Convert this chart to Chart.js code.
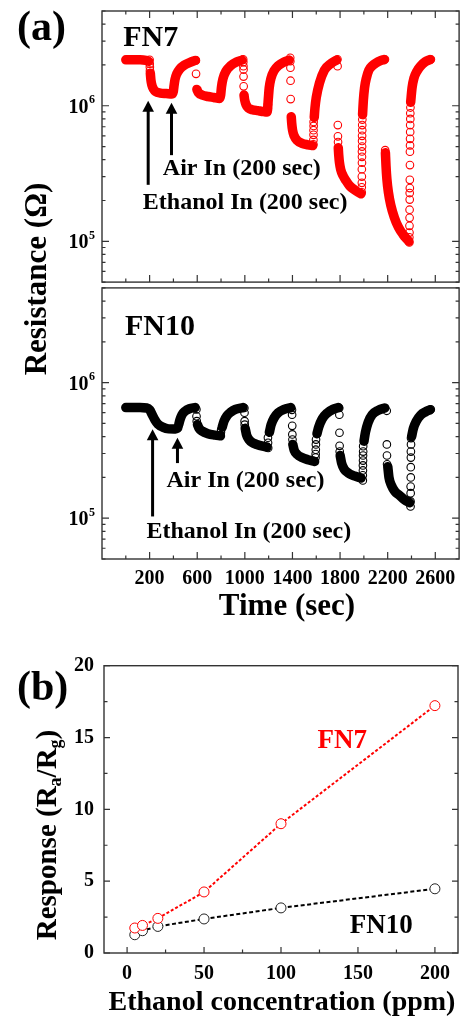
<!DOCTYPE html>
<html><head><meta charset="utf-8">
<script src="https://cdn.jsdelivr.net/npm/chart.js@4.4.1/dist/chart.umd.min.js"></script>
<style>
html,body{margin:0;padding:0;background:#fff;}
#wrap{position:relative;width:464px;height:1019px;overflow:hidden;background:#fff;}
canvas{position:absolute;left:0;}
.t{position:absolute;font-family:"Liberation Serif","Times New Roman",serif;font-weight:bold;color:#000;white-space:nowrap;width:max-content;}
.sub{position:relative;top:0.3em;font-size:0.62em;}
</style></head>
<body><div id="wrap">
<canvas id="cA1" width="464" height="287" style="top:0"></canvas>
<canvas id="cA2" width="464" height="357" style="top:283px"></canvas>
<canvas id="cB" width="464" height="379" style="top:640px"></canvas>
<div class="t" style="left:17px;top:5px;font-size:42px;line-height:42px">(a)</div>
<div class="t" style="left:17px;top:665px;font-size:42px;line-height:42px">(b)</div>
<div class="t" style="left:287px;top:588.5px;font-size:31px;line-height:31px;transform:translateX(-50%)">Time (sec)</div>
<div class="t" style="left:282px;top:987px;font-size:28px;line-height:28px;transform:translateX(-50%)">Ethanol concentration (ppm)</div>
<div class="t" style="left:34.5px;top:279px;font-size:31px;line-height:31px;transform:translate(-50%,-50%) rotate(-90deg)">Resistance (Ω)</div>
<div class="t" style="left:48px;top:835px;font-size:29px;line-height:29px;transform:translate(-50%,-50%) rotate(-90deg)">Response (R<span class="sub">a</span>/R<span class="sub">g</span>)</div>
</div>
<script>
// ---------------- data ----------------
const timeTickLabels = [200, 600, 1000, 1400, 1800, 2200, 2600];
const resistanceTickLabels = [1e5, 1e6];
const concTickLabels = [0, 50, 100, 150, 200];
const responseTickLabels = [0, 5, 10, 15, 20];

// FN7: dense (continuous-looking) parts of the transient, [time s, resistance ohm]
const fn7Bands = [
  [[0,2.18e6],[60,2.18e6],[120,2.18e6],[170,2.16e6],[192,2.13e6]],
  [[206,1.74e6],[211,1.55e6],[219,1.42e6],[232,1.33e6],[252,1.27e6],[290,1.24e6],[340,1.23e6],[388,1.22e6],[399,1.27e6],[405,1.4e6],[413,1.56e6],[428,1.72e6],[452,1.86e6],[490,1.99e6],[540,2.09e6],[584,2.16e6]],
  [[597,1.32e6],[610,1.25e6],[640,1.2e6],[690,1.17e6],[740,1.15e6],[788,1.13e6],[797,1.2e6],[804,1.38e6],[816,1.58e6],[842,1.8e6],[880,1.97e6],[930,2.1e6],[975,2.17e6]],
  [[993,1.2e6],[999,1.1e6],[1010,1.02e6],[1030,9.6e5],[1062,9.35e5],[1110,9.2e5],[1160,9.05e5],[1188,9.0e5],[1197,1.12e6],[1205,1.36e6],[1220,1.6e6],[1245,1.81e6],[1280,1.97e6],[1330,2.1e6],[1372,2.17e6]],
  [[1390,8.3e5],[1394,7.4e5],[1401,6.6e5],[1414,6.0e5],[1440,5.55e5],[1480,5.28e5],[1530,5.15e5],[1570,5.08e5]],
  [[1583,8.2e5],[1589,9.6e5],[1600,1.15e6],[1627,1.47e6],[1668,1.83e6],[1724,2.05e6],[1770,2.17e6]],
  [[1785,4.9e5],[1789,4.3e5],[1795,3.8e5],[1805,3.4e5],[1825,3.05e5],[1850,2.8e5],[1880,2.57e5],[1920,2.4e5],[1952,2.3e5],[1976,2.24e5]],
  [[1989,8.6e5],[1996,1.1e6],[2006,1.36e6],[2021,1.6e6],[2042,1.83e6],[2070,1.97e6],[2102,2.07e6],[2140,2.15e6],[2170,2.19e6]],
  [[2181,4.5e5],[2186,3.6e5],[2193,2.9e5],[2206,2.3e5],[2226,1.85e5],[2256,1.5e5],[2290,1.27e5],[2330,1.12e5],[2360,1.04e5],[2378,1.0e5]],
  [[2393,1.06e6],[2405,1.36e6],[2421,1.6e6],[2446,1.8e6],[2476,1.96e6],[2516,2.11e6],[2556,2.19e6]]
];
// FN7: isolated markers during the fast switching steps
const fn7Points = [
  [200,2.18e6],[201,2.04e6],[202,1.93e6],[203,1.82e6],
  [589,2.16e6],[590,1.72e6],
  [986,2.2e6],[987,2.1e6],[988,1.96e6],[989,1.85e6],[989,1.64e6],[990,1.39e6],
  [1193,9.6e5],[1194,1.02e6],
  [1381,2.26e6],[1382,2.13e6],[1383,1.91e6],[1384,1.53e6],[1385,1.12e6],
  [1576,5.2e5],[1576,5.6e5],[1577,6.1e5],[1577,6.6e5],[1578,7.1e5],[1578,7.6e5],
  [1778,2.2e6],[1779,1.96e6],[1781,7.2e5],[1782,5.95e5],[1783,5.4e5],
  [1982,2.3e5],[1982,2.5e5],[1983,2.7e5],[1983,3.0e5],[1983,3.4e5],[1984,3.8e5],[1984,4.2e5],[1984,4.6e5],[1985,5.0e5],[1985,5.5e5],[1985,6.0e5],[1986,6.6e5],[1986,7.2e5],[1987,7.9e5],
  [2177,2.2e6],[2179,4.7e5],[2180,4.3e5],
  [2382,9.8e4],[2382,1.07e5],[2383,1.16e5],[2383,1.3e5],[2384,1.49e5],[2384,1.71e5],[2385,2.03e5],[2385,2.27e5],[2386,2.47e5],[2386,2.84e5],[2387,3.65e5],[2387,4.58e5],[2388,5.1e5],[2388,5.7e5],[2389,6.4e5],[2389,7.2e5],[2390,8.0e5],[2390,8.8e5],[2391,9.7e5],
  [2563,2.2e6]
];

// FN10
const fn10Bands = [
  [[0,6.55e5],[60,6.55e5],[120,6.55e5],[175,6.5e5],[200,6.3e5],[222,5.8e5],[245,5.3e5],[270,4.95e5],[310,4.7e5],[360,4.56e5],[405,4.55e5],[432,4.6e5]],
  [[446,4.95e5],[456,5.35e5],[472,5.8e5],[497,6.15e5],[535,6.42e5],[582,6.55e5]],
  [[602,4.9e5],[616,4.6e5],[640,4.4e5],[690,4.2e5],[750,4.1e5],[795,4.05e5]],
  [[810,4.7e5],[825,5.2e5],[850,5.7e5],[880,6.05e5],[920,6.35e5],[985,6.55e5]],
  [[1003,4.6e5],[1015,4.1e5],[1035,3.8e5],[1065,3.6e5],[1100,3.5e5],[1150,3.4e5],[1186,3.35e5]],
  [[1206,4.3e5],[1221,4.9e5],[1246,5.5e5],[1280,6.0e5],[1330,6.35e5],[1386,6.55e5]],
  [[1403,3.5e5],[1416,3.15e5],[1440,2.95e5],[1480,2.8e5],[1530,2.7e5],[1586,2.62e5]],
  [[1606,4.2e5],[1621,4.7e5],[1650,5.4e5],[1690,5.95e5],[1740,6.35e5],[1786,6.55e5]],
  [[1801,2.9e5],[1813,2.55e5],[1835,2.3e5],[1870,2.15e5],[1920,2.05e5],[1976,1.98e5]],
  [[2001,3.7e5],[2013,4.3e5],[2036,5.1e5],[2070,5.8e5],[2120,6.25e5],[2176,6.5e5]],
  [[2201,2.4e5],[2211,2.0e5],[2231,1.75e5],[2260,1.58e5],[2300,1.47e5],[2340,1.37e5],[2385,1.3e5]],
  [[2401,4.0e5],[2416,4.6e5],[2441,5.2e5],[2476,5.75e5],[2520,6.1e5],[2555,6.3e5]]
];
const fn10Points = [
  [440,4.65e5],[442,4.8e5],
  [593,6.35e5],[594,5.65e5],[596,5.2e5],
  [797,4.1e5],[799,4.3e5],[801,4.5e5],
  [996,6.5e5],[997,6.0e5],[998,5.2e5],[999,4.9e5],
  [1194,3.93e5],[1195,3.6e5],[1196,3.3e5],
  [1396,6.3e5],[1397,5.8e5],[1398,4.8e5],[1399,4.15e5],[1400,3.8e5],
  [1594,2.8e5],[1595,2.97e5],[1596,3.2e5],[1597,3.5e5],[1598,3.8e5],
  [1793,6.5e5],[1794,5.8e5],[1795,4.27e5],[1796,3.42e5],[1797,3.1e5],
  [1991,1.9e5],[1991,2.07e5],[1992,2.25e5],[1992,2.45e5],[1993,2.66e5],[1993,2.9e5],[1994,3.1e5],[1994,3.4e5],
  [2192,6.2e5],[2193,3.5e5],[2194,2.9e5],[2195,2.5e5],
  [2392,1.22e5],[2392,1.33e5],[2393,1.53e5],[2393,1.71e5],[2394,2.0e5],[2394,2.38e5],[2395,2.8e5],[2395,3.1e5],[2396,3.5e5],[2396,3.9e5],
  [2562,6.35e5]
];

// panel (b)
const concentration = [5, 10, 20, 50, 100, 200];
const fn7Response = [1.74, 1.92, 2.41, 4.25, 9.0, 17.22];
const fn10Response = [1.27, 1.55, 1.85, 2.37, 3.14, 4.47];

// ---------------- helpers ----------------
const FONT = '"Liberation Serif", "Times New Roman", serif';
const RED = '#ff0000', BLK = '#000000', FRAME = '#333333';

const timeTicks = [];
for (let v = timeTickLabels[0] - 200; v <= timeTickLabels[timeTickLabels.length - 1]; v += 200) timeTicks.push(v);
const logTicks = [];
for (let e = 4; e <= 6; e++) for (let m = 1; m <= 9; m++) { const v = m * Math.pow(10, e); if (v >= 5e4 && v <= 5e6) logTicks.push(v); }
const concTicks = []; for (let v = 0; v <= 200; v += 25) concTicks.push(v);
const respTicks = []; for (let v = 0; v <= 20; v += 2.5) respTicks.push(v);

function bandSets(bands, color) {
  return bands.map(seg => ({
    data: seg.map(([t, r]) => ({x: t, y: r})),
    showLine: true, borderColor: color, backgroundColor: color, borderWidth: 9.5,
    pointRadius: 0, pointHoverRadius: 0, cubicInterpolationMode: 'monotone',
    borderCapStyle: 'round', borderJoinStyle: 'round', fill: false
  }));
}
function pointSet(pts, color) {
  return {
    data: pts.map(([t, r]) => ({x: t, y: r})), showLine: false,
    pointRadius: 3.8, pointBorderWidth: 1.1, pointBorderColor: color,
    pointBackgroundColor: 'rgba(255,255,255,0)', pointHoverRadius: 0
  };
}

function framePlugin(cfg) {
  return {
    id: 'frame' + Math.random(),
    afterDatasetsDraw(chart) {
      const {ctx, chartArea: a} = chart;
      const xs = chart.scales.x, ys = chart.scales.y;
      ctx.save();
      ctx.strokeStyle = FRAME; ctx.lineWidth = 1.2; ctx.lineCap = 'butt';
      ctx.beginPath();
      xs.ticks.forEach(tk => {
        const p = xs.getPixelForValue(tk.value);
        const L = cfg.xMajor.includes(tk.value) ? cfg.majorLen : cfg.minorLen;
        ctx.moveTo(p, a.bottom); ctx.lineTo(p, a.bottom - L);
        if (cfg.top) { ctx.moveTo(p, a.top); ctx.lineTo(p, a.top + L); }
      });
      ys.ticks.forEach(tk => {
        const p = ys.getPixelForValue(tk.value);
        const L = cfg.yMajor.includes(tk.value) ? cfg.majorLen : cfg.minorLen;
        ctx.moveTo(a.left, p); ctx.lineTo(a.left + L, p);
        if (cfg.right) { ctx.moveTo(a.right, p); ctx.lineTo(a.right - L, p); }
      });
      ctx.stroke();
      ctx.lineWidth = 1.4;
      ctx.strokeRect(a.left, a.top, a.right - a.left, a.bottom - a.top);
      if (cfg.logLabels) {
        ctx.fillStyle = '#000'; ctx.textBaseline = 'alphabetic'; ctx.textAlign = 'right';
        cfg.logLabels.forEach(v => {
          const p = ys.getPixelForValue(v);
          const exp = String(Math.round(Math.log10(v)));
          const xEnd = a.left - 7;
          ctx.font = 'bold 12px ' + FONT;
          ctx.fillText(exp, xEnd, p - 2.3);
          const ew = ctx.measureText(exp).width;
          ctx.font = 'bold 20px ' + FONT;
          ctx.fillText('10', xEnd - ew - 0.5, p + 6.9);
        });
      }
      if (cfg.annot) {
        const an = cfg.annot;
        (an.arrows || []).forEach(ar => {
          const x = xs.getPixelForValue(ar.x), y0 = ys.getPixelForValue(ar.from), y1 = ys.getPixelForValue(ar.to);
          ctx.strokeStyle = '#000'; ctx.lineWidth = 3;
          ctx.beginPath(); ctx.moveTo(x, y0); ctx.lineTo(x, y1 + 9); ctx.stroke();
          ctx.fillStyle = '#000';
          ctx.beginPath(); ctx.moveTo(x, y1); ctx.lineTo(x - 5.8, y1 + 11); ctx.lineTo(x + 5.8, y1 + 11); ctx.closePath(); ctx.fill();
        });
        (an.texts || []).forEach(tx => {
          ctx.font = 'bold ' + tx.size + 'px ' + FONT;
          ctx.fillStyle = tx.color || '#000'; ctx.textAlign = 'left'; ctx.textBaseline = 'alphabetic';
          ctx.fillText(tx.text, xs.getPixelForValue(tx.x), ys.getPixelForValue(tx.y));
        });
      }
      ctx.restore();
    }
  };
}

const commonOpts = {
  responsive: false, animation: false, events: [],
  plugins: {legend: {display: false}, tooltip: {enabled: false}}
};

function timeAxis(showLabels, h) {
  return {
    type: 'linear', min: -200, max: 2800,
    afterBuildTicks: s => { s.ticks = timeTicks.map(v => ({value: v})); },
    ticks: {display: showLabels, autoSkip: false, maxRotation: 0, padding: 8, color: '#000',
      font: {family: FONT, size: 20, weight: 'bold'},
      callback: v => timeTickLabels.includes(v) ? String(v) : ''},
    grid: {display: false, drawTicks: false}, border: {display: false},
    afterFit: s => { s.height = h; }
  };
}
function resAxis() {
  return {
    type: 'logarithmic', min: 5e4, max: 5e6,
    afterBuildTicks: s => { s.ticks = logTicks.map(v => ({value: v})); },
    ticks: {display: false}, grid: {display: false, drawTicks: false}, border: {display: false},
    afterFit: s => { s.width = 102; }
  };
}

// ---------------- panel (a) FN7 ----------------
new Chart(document.getElementById('cA1'), {
  type: 'scatter',
  data: {datasets: [pointSet(fn7Points, RED), ...bandSets(fn7Bands, RED)]},
  options: Object.assign({}, commonOpts, {
    layout: {padding: {top: 11, right: 4, bottom: 2, left: 0}},
    scales: {x: timeAxis(false, 0), y: resAxis()}
  }),
  plugins: [framePlugin({
    top: true, right: true, majorLen: 7, minorLen: 3.5,
    xMajor: timeTickLabels, yMajor: resistanceTickLabels, logLabels: resistanceTickLabels,
    annot: {
      texts: [
        {x: -22, y: 2.75e6, text: 'FN7', size: 30},
        {x: 311, y: 3.06e5, text: 'Air In (200 sec)', size: 24},
        {x: 143, y: 1.72e5, text: 'Ethanol In (200 sec)', size: 24}
      ],
      arrows: [{x: 188, from: 2.61e5, to: 1.09e6}, {x: 384, from: 4.32e5, to: 1.05e6}]
    }
  })]
});

// ---------------- panel (a) FN10 ----------------
new Chart(document.getElementById('cA2'), {
  type: 'scatter',
  data: {datasets: [pointSet(fn10Points, BLK), ...bandSets(fn10Bands, BLK)]},
  options: Object.assign({}, commonOpts, {
    layout: {padding: {top: 2, right: 4, bottom: 0, left: 0}},
    scales: {x: timeAxis(true, 81), y: resAxis()}
  }),
  plugins: [framePlugin({
    top: false, right: true, majorLen: 7, minorLen: 3.5,
    xMajor: timeTickLabels, yMajor: resistanceTickLabels, logLabels: resistanceTickLabels,
    annot: {
      texts: [
        {x: -7.5, y: 2.26e6, text: 'FN10', size: 30},
        {x: 342, y: 1.69e5, text: 'Air In (200 sec)', size: 24},
        {x: 174, y: 7.09e4, text: 'Ethanol In (200 sec)', size: 24}
      ],
      arrows: [{x: 225, from: 1.03e5, to: 4.54e5}, {x: 434, from: 2.55e5, to: 3.93e5}]
    }
  })]
});

// ---------------- panel (b) ----------------
new Chart(document.getElementById('cB'), {
  type: 'scatter',
  data: {datasets: [
    {data: concentration.map((c, i) => ({x: c, y: fn7Response[i]})), showLine: true,
     borderColor: RED, borderWidth: 2, borderDash: [3, 2],
     pointRadius: 5, pointBorderWidth: 1, pointBorderColor: RED, pointBackgroundColor: '#fff'},
    {data: concentration.map((c, i) => ({x: c, y: fn10Response[i]})), showLine: true,
     borderColor: BLK, borderWidth: 2, borderDash: [4, 2.5],
     pointRadius: 5, pointBorderWidth: 1, pointBorderColor: '#222', pointBackgroundColor: '#fff'}
  ]},
  options: Object.assign({}, commonOpts, {
    layout: {padding: {top: 25.7, right: 2.3, bottom: 0, left: 0}},
    scales: {
      x: {type: 'linear', min: -15, max: 215,
        afterBuildTicks: s => { s.ticks = concTicks.map(v => ({value: v})); },
        ticks: {autoSkip: false, maxRotation: 0, padding: 9, color: '#000',
          font: {family: FONT, size: 20, weight: 'bold'},
          callback: v => concTickLabels.includes(v) ? String(v) : ''},
        grid: {display: false, drawTicks: false}, border: {display: false},
        afterFit: s => { s.height = 66; }},
      y: {type: 'linear', min: 0, max: 20,
        afterBuildTicks: s => { s.ticks = respTicks.map(v => ({value: v})); },
        ticks: {autoSkip: false, padding: 10, color: '#000',
          font: {family: FONT, size: 20, weight: 'bold'},
          callback: v => responseTickLabels.includes(v) ? String(v) : ''},
        grid: {display: false, drawTicks: false}, border: {display: false},
        afterFit: s => { s.width = 104; }}
    }
  }),
  plugins: [framePlugin({
    top: false, right: true, majorLen: 6, minorLen: 3.5,
    xMajor: concTickLabels, yMajor: responseTickLabels,
    annot: {
      texts: [
        {x: 123.7, y: 14.28, text: 'FN7', size: 27, color: RED},
        {x: 144.7, y: 1.41, text: 'FN10', size: 27}
      ]
    }
  })]
});
</script>
</body></html>
